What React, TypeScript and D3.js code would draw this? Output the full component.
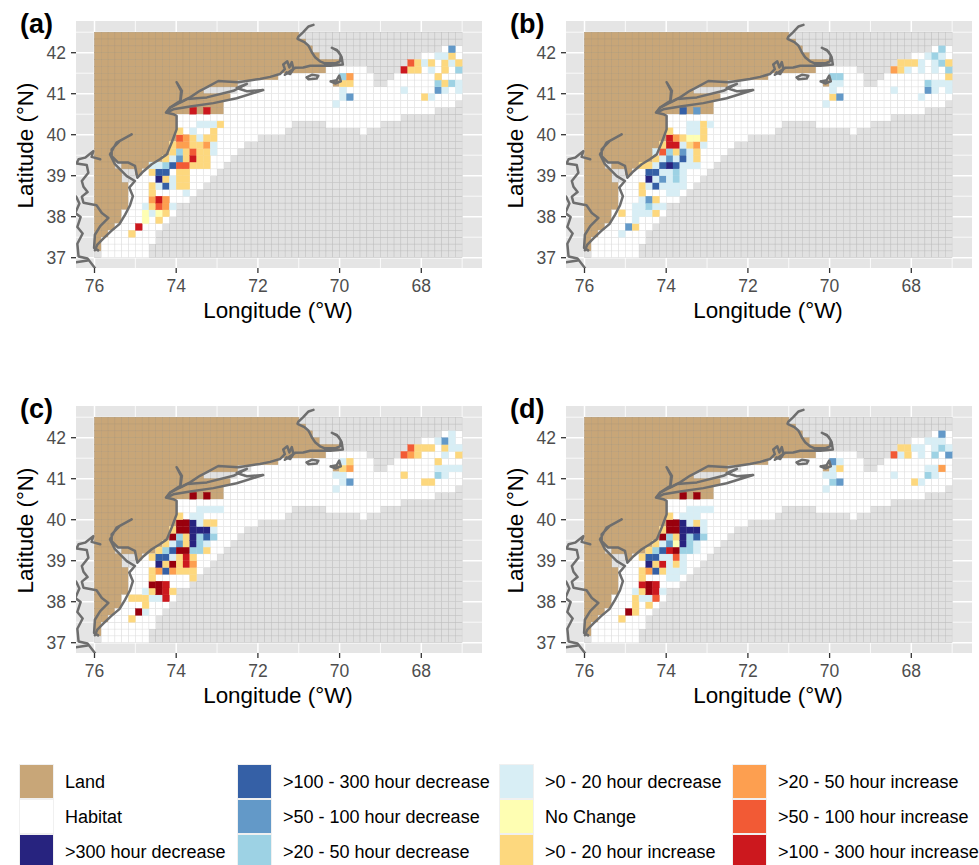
import React from "react";
import * as d3 from "d3";

// grid: 1/6 degree cells; col = (76 - lon) * 6, row = (lat - 37) * 6
const lonTicks = [76, 74, 72, 70, 68];
const latTicks = [37, 38, 39, 40, 41, 42];
const lonMinor = [75, 73, 71, 69, 67];
const latMinor = [37.5, 38.5, 39.5, 40.5, 41.5, 42.5];
const nCols = 54;
const nRows = 33;

const landSpans: [number, number, number][] = [
  [32, 0, 29], [31, 0, 30], [30, 0, 31], [29, 0, 32], [28, 0, 35], [27, 0, 33], [26, 0, 26],
  [25, 0, 20], [25, 35, 35], [24, 0, 15], [23, 0, 19], [22, 0, 18], [21, 0, 18], [20, 0, 11],
  [19, 0, 11], [18, 0, 11], [17, 0, 11], [16, 0, 10], [15, 0, 10], [14, 0, 9], [13, 0, 2], [13, 4, 8],
  [12, 0, 3], [12, 6, 6], [11, 0, 3], [10, 0, 4], [9, 0, 4], [8, 0, 4], [7, 0, 4], [6, 0, 3],
  [5, 0, 3], [4, 0, 2], [3, 0, 1], [2, 0, 0], [1, 0, 0],
];

const habitatSpans: [number, number, number][] = [
  [0, 1, 7], [1, 1, 7], [2, 1, 8], [3, 2, 8], [4, 3, 9], [5, 4, 10], [6, 4, 11], [7, 5, 11],
  [8, 5, 13], [9, 5, 14], [10, 5, 15], [11, 6, 16], [12, 7, 17], [13, 9, 18], [14, 10, 19],
  [15, 11, 20], [16, 11, 21], [17, 12, 23], [18, 12, 27], [18, 39, 39], [19, 12, 28], [19, 34, 41],
  [20, 12, 44], [21, 19, 49], [22, 19, 52], [23, 20, 53], [24, 21, 53], [25, 23, 34], [25, 36, 40],
  [25, 43, 53], [26, 27, 40], [26, 44, 53], [27, 34, 39], [27, 45, 53], [28, 46, 53], [29, 48, 53], [30, 51, 53],
];

type Changes = Record<number, Record<number, string>>;

const changesA: Changes = {
  30: { 52: "D2" },
  29: { 50: "D0", 51: "D0", 52: "I" },
  28: { 46: "R2", 47: "I", 48: "D0", 49: "I", 51: "I", 52: "D0", 53: "I" },
  27: { 45: "R3", 46: "I", 47: "I", 49: "D0", 51: "I", 53: "D1" },
  26: { 36: "D1", 37: "R1", 50: "I" },
  25: { 36: "I", 37: "I", 50: "D1", 51: "I", 52: "D1", 53: "D0" },
  24: { 36: "D0", 45: "D0", 50: "D2", 51: "D0", 53: "D0" },
  23: { 36: "D0", 37: "D2", 48: "I", 49: "D0" },
  22: { 35: "D0" },
  21: { 14: "R3", 16: "R3" },
  19: { 15: "D0", 16: "D0", 17: "D0", 18: "I" },
  18: { 12: "I", 14: "D0", 17: "I" },
  17: { 12: "R2", 13: "R1", 14: "I", 15: "D0", 16: "I", 17: "I" },
  16: { 11: "I", 12: "R1", 13: "R1", 14: "I", 15: "I", 16: "R1", 17: "D0" },
  15: { 11: "I", 12: "D1", 13: "I", 14: "R2", 15: "I", 16: "I", 17: "D0" },
  14: { 10: "I", 11: "D0", 12: "D2", 13: "I", 14: "R3", 15: "I", 16: "I" },
  13: { 8: "D0", 9: "D0", 10: "D1", 11: "D3", 12: "R2", 13: "R2", 14: "I", 15: "I", 16: "I" },
  12: { 8: "I", 9: "D3", 10: "D3", 12: "I", 13: "I" },
  11: { 9: "D4", 10: "I", 11: "D0", 12: "I", 13: "I" },
  10: { 8: "I", 9: "D0", 10: "D3", 11: "D0", 12: "I", 13: "I" },
  9: { 8: "I", 13: "D0" },
  8: { 8: "R1", 9: "R3", 10: "R1" },
  7: { 7: "D0", 8: "I", 9: "R2", 10: "R1", 11: "D0" },
  6: { 7: "N", 8: "D0", 9: "N", 10: "I" },
  5: { 7: "N", 9: "I" },
  4: { 6: "R3" },
  3: { 5: "I" },
};

const changesB: Changes = {
  30: { 52: "D1" },
  29: { 50: "D0", 51: "D1", 52: "D0" },
  28: { 46: "I", 47: "I", 48: "I", 49: "D0", 51: "D0", 52: "D1", 53: "I" },
  27: { 45: "R1", 46: "I", 47: "D0", 49: "D0", 51: "D0", 53: "D1" },
  26: { 36: "D1", 37: "D1", 53: "I" },
  25: { 36: "D0", 37: "D0", 50: "D1", 51: "D0", 52: "D0", 53: "D0" },
  24: { 36: "D0", 45: "D0", 50: "D2", 51: "D0", 53: "D0" },
  23: { 36: "I", 37: "D2", 49: "D0" },
  22: { 35: "D0" },
  21: { 14: "D3", 16: "D2" },
  19: { 15: "D0", 16: "D0", 17: "I", 18: "D0" },
  18: { 12: "I", 15: "D0", 16: "D0", 17: "I" },
  17: { 12: "R3", 13: "R1", 14: "I", 15: "N", 16: "N", 17: "I" },
  16: { 11: "I", 12: "R3", 13: "R3", 14: "D0", 15: "I", 16: "R1", 17: "D0" },
  15: { 10: "D0", 11: "R2", 12: "D1", 13: "I", 14: "D2", 15: "D0", 16: "I" },
  14: { 10: "I", 11: "D0", 12: "D2", 13: "D0", 14: "D3", 15: "D0", 16: "I" },
  13: { 8: "I", 9: "I", 10: "D0", 11: "D3", 12: "D4", 13: "D3", 14: "D0", 15: "D0", 16: "D0" },
  12: { 9: "D3", 10: "D3", 11: "D0", 12: "D0", 13: "D1", 14: "D0" },
  11: { 9: "D4", 10: "D0", 11: "D2", 12: "D0", 13: "D1", 14: "D0" },
  10: { 8: "I", 9: "D0", 10: "D3", 11: "D0", 12: "D0", 13: "D0", 14: "D0" },
  9: { 8: "I", 12: "D0", 13: "D0" },
  8: { 8: "D0", 9: "D2", 10: "I" },
  7: { 7: "D0", 8: "D0", 9: "D1", 10: "D0", 11: "D0" },
  6: { 5: "I", 7: "D0", 8: "D0", 9: "D0", 10: "I" },
  5: { 7: "D0" },
  4: { 6: "D2", 7: "I" },
  3: { 5: "D0" },
};

const changesC: Changes = {
  30: { 52: "D0" },
  29: { 50: "D0", 51: "D2", 52: "D0" },
  28: { 46: "R2", 47: "I", 48: "I", 49: "I", 51: "I", 52: "D0", 53: "D0" },
  27: { 45: "R2", 46: "R1", 47: "I", 51: "D0", 53: "I" },
  26: { 36: "D0", 37: "I", 50: "I" },
  25: { 36: "I", 37: "R1", 50: "D0", 51: "D0", 52: "D0", 53: "D0" },
  24: { 35: "D0", 36: "D0", 45: "I", 50: "D1", 51: "D0" },
  23: { 36: "D0", 37: "D2", 48: "I", 49: "I" },
  22: { 35: "D0" },
  21: { 14: "R4", 16: "R4" },
  19: { 15: "D0", 16: "D0", 17: "D0", 18: "D0" },
  18: { 12: "I", 14: "D0", 15: "D0" },
  17: { 12: "R4", 13: "R4", 14: "D4", 15: "D0", 16: "I", 17: "I" },
  16: { 11: "I", 12: "R4", 13: "R4", 14: "D4", 15: "D4", 16: "D4", 17: "D0" },
  15: { 11: "R4", 12: "D1", 13: "I", 14: "D4", 15: "D1", 16: "D3", 17: "D1" },
  14: { 10: "I", 11: "D0", 12: "D2", 13: "I", 14: "D4", 15: "D1", 16: "D0" },
  13: { 9: "I", 10: "D1", 11: "D3", 12: "R4", 13: "R4", 14: "D1", 15: "D1", 16: "I" },
  12: { 8: "I", 9: "D3", 10: "D3", 11: "D0", 12: "I", 13: "R3", 14: "I" },
  11: { 9: "D4", 10: "I", 11: "R4", 12: "I", 13: "R3", 14: "R1" },
  10: { 8: "I", 9: "R1", 10: "D3", 11: "R1", 12: "I", 13: "I", 14: "I" },
  9: { 8: "I", 14: "I" },
  8: { 8: "R4", 9: "R4", 10: "R3" },
  7: { 7: "D0", 8: "I", 9: "R4", 10: "R3", 11: "I" },
  6: { 5: "I", 6: "I", 7: "I", 8: "D0", 9: "D0", 10: "R3" },
  5: { 7: "I" },
  4: { 6: "R4", 7: "D0" },
  3: { 5: "I" },
};

const changesD: Changes = {
  30: { 52: "D2" },
  29: { 50: "D0", 51: "D0", 52: "D0" },
  28: { 46: "I", 47: "I", 48: "D0", 49: "D0", 51: "D0", 52: "D1", 53: "D0" },
  27: { 45: "R2", 46: "D0", 47: "I", 49: "D0", 51: "D1", 53: "D2" },
  26: { 36: "D2", 37: "D0" },
  25: { 36: "D0", 37: "I", 50: "D0", 51: "D0", 52: "R1" },
  24: { 35: "D0", 36: "D0", 45: "D0", 50: "D1", 51: "D0" },
  23: { 36: "D1", 37: "D2", 48: "I", 49: "D0" },
  22: { 35: "D0" },
  21: { 14: "R4", 16: "R4" },
  19: { 15: "D0", 16: "D0", 17: "D0", 18: "D0" },
  18: { 12: "I", 14: "D0", 15: "D0", 16: "D0" },
  17: { 12: "R4", 13: "R4", 14: "D4", 15: "D0", 16: "I", 17: "D0" },
  16: { 11: "I", 12: "R4", 13: "R4", 14: "D4", 15: "D4", 16: "D4", 17: "D0" },
  15: { 11: "R4", 12: "D1", 13: "I", 14: "D4", 15: "D1", 16: "D3", 17: "D1" },
  14: { 10: "I", 11: "D0", 12: "D2", 13: "N", 14: "D4", 15: "D1", 16: "D0" },
  13: { 9: "I", 10: "D1", 11: "D3", 12: "R3", 13: "R4", 14: "D1", 15: "D1", 16: "D0" },
  12: { 8: "I", 9: "D3", 10: "D3", 11: "D0", 12: "D0", 13: "R2", 14: "D0" },
  11: { 9: "D4", 10: "I", 11: "R3", 12: "D0", 13: "I", 14: "D0" },
  10: { 8: "I", 9: "R1", 10: "D3", 11: "I", 12: "D0", 13: "D0", 14: "D0" },
  9: { 8: "I", 12: "D0", 13: "D0" },
  8: { 8: "R3", 9: "R4", 10: "R3" },
  7: { 7: "D0", 8: "I", 9: "R4", 10: "R3", 11: "D0" },
  6: { 7: "I", 8: "D0", 9: "D0", 10: "R2" },
  5: { 7: "I", 9: "I" },
  4: { 6: "R4", 7: "I" },
  3: { 5: "I" },
};

const panelTags = ["(a)", "(b)", "(c)", "(d)"];
const panelChanges = [changesA, changesB, changesC, changesD];

// coastlines, [degrees W, degrees N]
const mainCoast: [number, number][] = [
  [75.99, 37.18], [75.93, 37.32], [75.78, 37.47], [75.58, 37.66], [75.39, 37.82], [75.25, 38.05], [75.13, 38.28],
  [75.06, 38.5], [75.15, 38.71], [75.01, 38.87], [75.21, 38.99], [75.5, 39.28], [75.62, 39.52], [75.46, 39.81],
  [75.09, 40.01], [75.38, 39.85], [75.58, 39.64], [75.58, 39.48], [75.42, 39.32], [75.17, 39.32], [75.01, 39.24],
  [74.95, 38.95], [74.8, 39.11], [74.6, 39.28], [74.4, 39.4], [74.23, 39.52], [74.11, 39.81], [73.99, 40.13],
  [73.99, 40.46], [74.07, 40.5], [74.25, 40.54], [74.15, 40.66], [73.9, 40.83], [73.88, 41.07], [73.99, 41.28],
  [73.86, 41.07], [73.9, 40.79], [73.66, 40.91], [73.42, 41.07], [73.21, 41.18], [72.97, 41.31], [72.48, 41.28],
  [71.95, 41.36], [71.7, 41.41], [71.46, 41.48], [71.34, 41.6], [71.38, 41.71], [71.28, 41.79], [71.23, 41.64],
  [71.17, 41.77], [71.13, 41.6], [71.21, 41.48], [71.3, 41.52], [71.34, 41.46], [71.09, 41.63], [70.89, 41.64],
  [70.72, 41.68], [70.56, 41.68], [70.23, 41.68], [69.92, 41.71], [69.95, 41.89], [70.03, 42.03], [70.19, 42.12],
  [70.07, 42.07], [69.97, 41.93], [69.99, 41.79], [70.11, 41.74], [70.36, 41.74], [70.48, 41.79], [70.6, 41.89],
  [70.68, 42.01], [70.76, 42.17], [70.85, 42.25], [71.03, 42.34], [71.01, 42.39], [70.89, 42.5], [70.76, 42.64], [70.64, 42.68],
];
const vineyardCoast: [number, number][] = [[70.81, 41.4], [70.68, 41.46], [70.52, 41.44], [70.56, 41.37], [70.76, 41.35], [70.81, 41.4]];
const nantucketCoast: [number, number][] = [[70.22, 41.3], [70.07, 41.33], [70.01, 41.44], [69.97, 41.3], [70.11, 41.25], [70.22, 41.3]];
const longIslandCoast: [number, number][] = [
  [74.23, 40.54], [74.07, 40.62], [73.66, 40.69], [73.09, 40.77], [72.52, 40.89], [71.87, 41.09], [72.27, 41.06],
  [72.52, 41.14], [72.27, 41.24], [72.6, 41.07], [73.25, 40.91], [73.74, 40.87], [74.15, 40.66], [74.23, 40.54],
];
const chesapeakeEast: [number, number][] = [
  [75.86, 39.4], [76.07, 39.46], [76.03, 39.6], [76.23, 39.44], [76.39, 39.4], [76.44, 39.3], [76.19, 39.26],
  [76.15, 39.07], [76.31, 38.87], [76.27, 38.73], [76.17, 38.6], [76.31, 38.49], [76.27, 38.34], [75.95, 38.28],
  [75.82, 38.09], [75.66, 37.97], [75.86, 37.77], [75.99, 37.56], [76.01, 37.24], [75.91, 37.18],
];
const chesapeakeWest: [number, number][] = [
  [76.45, 38.49], [76.37, 38.32], [76.47, 38.09], [76.34, 37.99], [76.42, 37.75], [76.29, 37.59], [76.42, 37.34],
  [76.39, 37.03], [76.17, 36.98], [75.99, 36.75],
];
const capeHenry: [number, number][] = [[76.45, 36.89], [76.17, 36.93]];
const coastlines = [mainCoast, vineyardCoast, nantucketCoast, longIslandCoast, chesapeakeEast, chesapeakeWest, capeHenry];

const legendLabels = [
  ">300 hour decrease", ">100 - 300 hour decrease", ">50 - 100 hour decrease", ">20 - 50 hour decrease",
  ">0 - 20 hour decrease", "No Change", ">0 - 20 hour increase", ">20 - 50 hour increase",
  ">50 - 100 hour increase", ">100 - 300 hour increase",
];
const legendKeys = ["D4", "D3", "D2", "D1", "D0", "N", "I", "R1", "R2", "R3"];
const colorOf: Record<string, string> = {
  Land: "#C8A678", Habitat: "#FFFFFF",
  D4: "#27237F", D3: "#3560A6", D2: "#6399C8", D1: "#9DD2E4", D0: "#D8EEF5", N: "#FEFEB2",
  I: "#FDD87E", R1: "#FD9F50", R2: "#F25A35", R3: "#CC181E", R4: "#99000D",
};

const FONT = "'Liberation Sans', Arial, sans-serif";
const panelW = 406;
const panelH = 247;
const x = d3.scaleLinear().domain([76, 68]).range([18.5, 345.3]);
const y = d3.scaleLinear().domain([37, 42]).range([236.7, 31.7]);
const lineGen = d3.line<[number, number]>().x((d) => x(d[0])).y((d) => y(d[1]));
const lonOf = (c: number) => 76 - c / 6;
const latOf = (r: number) => 37 + r / 6;

function cellRect(c: number, r: number, fill: string, key: string, stroke: string, sw: number) {
  const x0 = x(lonOf(c));
  const x1 = x(lonOf(c + 1));
  const y1 = y(latOf(r));
  const y0 = y(latOf(r + 1));
  return <rect key={key} x={x0} y={y0} width={x1 - x0} height={y1 - y0} fill={fill} stroke={stroke} strokeWidth={sw} />;
}

function Panel({ idx }: { idx: number }) {
  const dx = idx % 2 === 0 ? 76 : 566;
  const dy = idx < 2 ? 21 : 406;
  const changes = panelChanges[idx];
  const clipId = `clip-${idx}`;
  const cells: React.ReactNode[] = [];
  for (let r = 0; r < nRows; r++) {
    for (let c = 0; c < nCols; c++) {
      cells.push(cellRect(c, r, "#e1e1e1", `g${r}-${c}`, "#bcbcbc", 0.4));
    }
  }
  landSpans.forEach(([r, a, b]) => {
    for (let c = a; c <= b; c++) cells.push(cellRect(c, r, colorOf.Land, `l${r}-${c}`, "#b49b76", 0.4));
  });
  habitatSpans.forEach(([r, a, b]) => {
    for (let c = a; c <= b; c++) cells.push(cellRect(c, r, colorOf.Habitat, `h${r}-${c}`, "#dedede", 0.4));
  });
  Object.keys(changes).forEach((rk) => {
    const r = +rk;
    Object.keys(changes[r]).forEach((ck) => {
      const c = +ck;
      cells.push(cellRect(c, r, colorOf[changes[r][c]], `c${r}-${c}`, colorOf[changes[r][c]], 0.3));
    });
  });
  return (
    <g transform={`translate(${dx},${dy})`}>
      <clipPath id={clipId}><rect width={panelW} height={panelH} /></clipPath>
      <rect width={panelW} height={panelH} fill="#E5E5E5" />
      {lonMinor.map((l) => <line key={`xm${l}`} x1={x(l)} x2={x(l)} y1={0} y2={panelH} stroke="#fff" strokeWidth={0.8} />)}
      {latMinor.map((l) => <line key={`ym${l}`} y1={y(l)} y2={y(l)} x1={0} x2={panelW} stroke="#fff" strokeWidth={0.8} />)}
      {lonTicks.map((l) => <line key={`xj${l}`} x1={x(l)} x2={x(l)} y1={0} y2={panelH} stroke="#fff" strokeWidth={1.5} />)}
      {latTicks.map((l) => <line key={`yj${l}`} y1={y(l)} y2={y(l)} x1={0} x2={panelW} stroke="#fff" strokeWidth={1.5} />)}
      <g>{cells}</g>
      <g clipPath={`url(#${clipId})`}>
        {coastlines.map((pts, i) => (
          <path key={i} d={lineGen(pts) as string} fill="none" stroke="#6e6e6e" strokeWidth={2.5} strokeLinejoin="round" strokeLinecap="round" />
        ))}
      </g>
      {lonTicks.map((l) => (
        <g key={`xt${l}`}>
          <line x1={x(l)} x2={x(l)} y1={panelH} y2={panelH + 5} stroke="#333" strokeWidth={1.3} />
          <text x={x(l)} y={panelH + 24} textAnchor="middle" fontSize={17.5} fill="#4D4D4D" fontFamily={FONT}>{l}</text>
        </g>
      ))}
      {latTicks.map((l) => (
        <g key={`yt${l}`}>
          <line x1={-5} x2={0} y1={y(l)} y2={y(l)} stroke="#333" strokeWidth={1.3} />
          <text x={-10} y={y(l) + 6.2} textAnchor="end" fontSize={17.5} fill="#4D4D4D" fontFamily={FONT}>{l}</text>
        </g>
      ))}
      <text x={panelW / 2 - 1} y={panelH + 50} textAnchor="middle" fontSize={22.4} fill="#000" fontFamily={FONT}>Longitude (°W)</text>
      <text transform={`translate(-43,${panelH / 2 + 1}) rotate(-90)`} textAnchor="middle" fontSize={22.4} fill="#000" fontFamily={FONT}>Latitude (°N)</text>
      <text x={-56} y={12} fontSize={27} fontWeight="bold" fill="#000" fontFamily={FONT}>{panelTags[idx]}</text>
    </g>
  );
}

function LegendItem({ px, py, fill, label }: { px: number; py: number; fill: string; label: string }) {
  return (
    <g transform={`translate(${px},${py})`}>
      <rect x={-1} y={-1} width={35} height={35} fill="#F0F0F0" />
      <rect x={0} y={0} width={33} height={33} fill={fill} />
      <text x={45} y={23} fontSize={18} fill="#000" fontFamily={FONT}>{label}</text>
    </g>
  );
}

export default function App() {
  const legendCols = [20, 238, 500, 733];
  const legendRows = [765, 800, 835];
  const items = [
    { label: "Land", fill: colorOf.Land },
    { label: "Habitat", fill: colorOf.Habitat },
    ...legendLabels.map((label, i) => ({ label, fill: colorOf[legendKeys[i]] })),
  ];
  return (
    <svg width={979} height={865} style={{ position: "absolute", left: 0, top: 0, display: "block", background: "#fff" }}>
      {[0, 1, 2, 3].map((i) => <Panel key={i} idx={i} />)}
      {items.map((it, i) => (
        <LegendItem key={it.label} px={legendCols[Math.floor(i / 3)]} py={legendRows[i % 3]} fill={it.fill} label={it.label} />
      ))}
    </svg>
  );
}
